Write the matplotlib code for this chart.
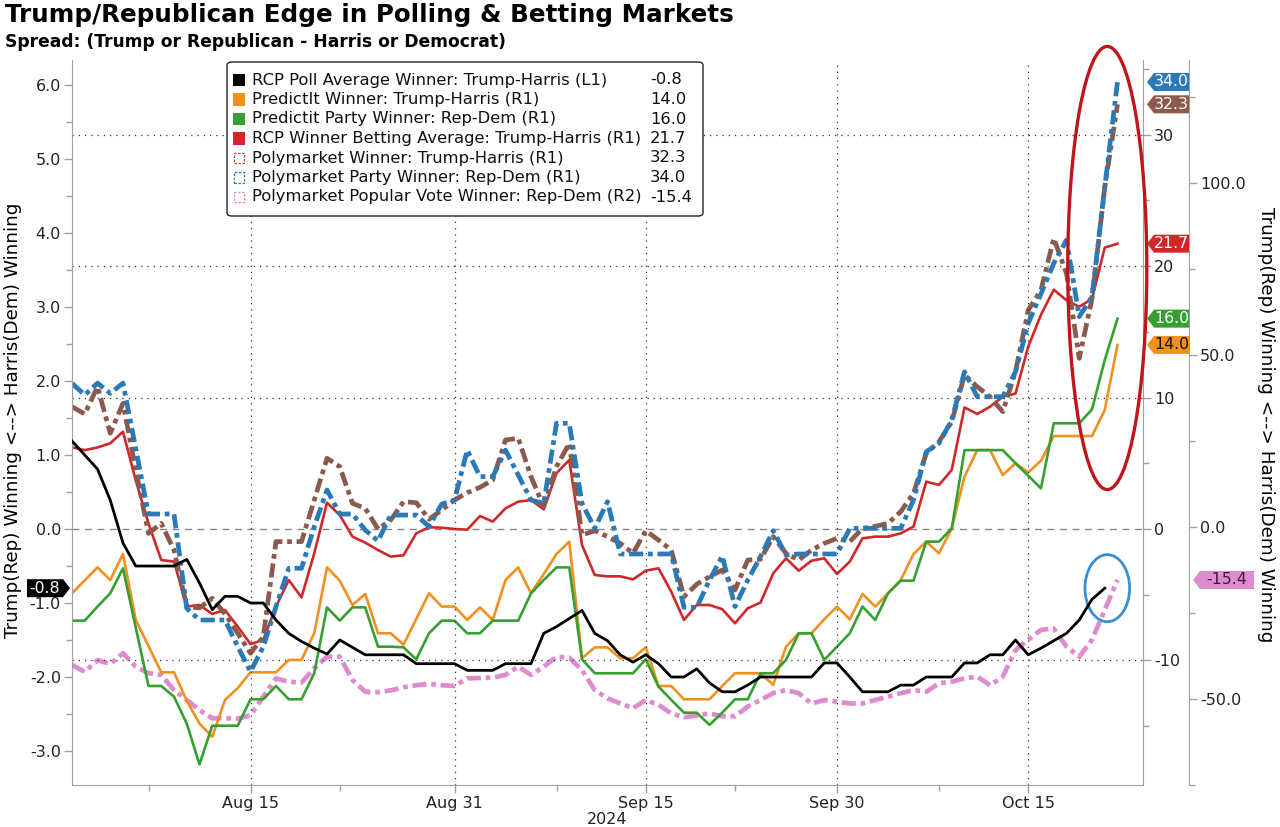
import numpy as np
import pandas as pd
import matplotlib
matplotlib.use('Agg')
import matplotlib.pyplot as plt
import matplotlib.dates as mdates
from matplotlib.patches import Ellipse, Rectangle, FancyBboxPatch, Polygon
from matplotlib.ticker import MultipleLocator, FormatStrFormatter

# ---------------- data ----------------
dates = pd.date_range('2024-08-01', periods=83, freq='D')

rcp_poll = [1.19, 1.0, 0.81, 0.39, -0.19, -0.5, -0.5, -0.5, -0.5, -0.41,
            -0.73, -1.09, -0.91, -0.91, -1.0, -1.0, -1.23, -1.41, -1.52, -1.61,
            -1.69, -1.5, -1.6, -1.7, -1.7, -1.7, -1.7, -1.82, -1.82, -1.82,
            -1.82, -1.91, -1.91, -1.91, -1.82, -1.82, -1.82, -1.41, -1.32, -1.21,
            -1.10, -1.41, -1.51, -1.70, -1.80, -1.70, -1.82, -2.0, -2.0, -1.89,
            -2.08, -2.2, -2.2, -2.11, -2.0, -2.0, -2.0, -2.0, -2.0, -1.81,
            -1.81, -2.0, -2.2, -2.2, -2.2, -2.11, -2.11, -2.0, -2.0, -2.0,
            -1.81, -1.81, -1.70, -1.70, -1.5, -1.70, -1.61, -1.51, -1.41, -1.23,
            -0.95, -0.8]

predictit = [-4.89, -3.9, -2.92, -3.88, -1.9, -6.92, -8.9, -10.9, -10.9, -13.06,
             -14.8, -15.8, -13.0, -12.1, -10.9, -10.9, -10.9, -9.96, -9.96, -7.93,
             -2.92, -3.93, -5.78, -4.94, -7.93, -7.93, -8.8, -6.85, -4.89, -5.9,
             -5.9, -6.92, -5.96, -6.92, -3.88, -2.92, -4.89, -3.42, -1.9, -0.96,
             -9.83, -9.0, -9.0, -9.83, -9.83, -9.0, -11.94, -11.94, -12.95, -12.95,
             -12.95, -11.94, -10.97, -10.97, -10.97, -11.86, -8.95, -7.93, -7.93, -6.87,
             -5.9, -6.87, -4.94, -5.9, -4.89, -3.88, -1.9, -0.96, -1.85, 0.05,
             3.98, 6.0, 6.0, 4.1, 5.0, 4.3, 5.2, 7.07, 7.07, 7.07,
             7.07, 9.05, 14.0]

predictit_party = [-6.97, -6.97, -5.9, -4.89, -2.99, -7.5, -11.94, -11.94, -12.75, -14.8,
                   -17.9, -14.96, -14.96, -14.96, -12.95, -12.95, -11.94, -12.95, -12.95, -10.97,
                   -5.96, -6.97, -5.96, -5.96, -8.95, -8.95, -9.0, -9.91, -7.93, -6.97,
                   -6.97, -7.93, -7.93, -6.97, -6.97, -6.97, -4.89, -3.88, -2.92, -2.92,
                   -9.91, -10.97, -10.97, -10.97, -10.97, -9.91, -11.99, -13.0, -13.97, -13.97,
                   -14.9, -13.97, -12.95, -12.95, -10.97, -10.97, -9.96, -7.93, -7.93, -9.96,
                   -8.95, -7.93, -5.9, -6.92, -4.89, -3.93, -3.93, -0.96, -0.96, 0.05,
                   6.0, 6.0, 6.0, 6.0, 5.0, 4.05, 3.09, 8.04, 8.04, 8.04,
                   9.1, 12.85, 16.0]

rcp_betting = [6.21, 6.0, 6.2, 6.52, 7.4, 3.7, 0.43, -2.36, -2.48, -5.9,
               -5.78, -6.46, -6.16, -7.43, -8.75, -8.44, -5.9, -3.88, -5.2, -1.85,
               2.0, 1.06, -0.58, -1.04, -1.6, -2.1, -2.0, -0.33, 0.13, 0.1,
               0.0, -0.05, 0.99, 0.56, 1.57, 2.08, 2.2, 1.5, 4.24, 5.25,
               -1.22, -3.5, -3.6, -3.6, -3.83, -3.17, -2.99, -4.77, -6.92, -5.78,
               -5.78, -6.1, -7.17, -6.03, -5.6, -3.37, -2.23, -3.17, -2.41, -2.23,
               -3.42, -2.48, -0.71, -0.58, -0.58, -0.33, 0.18, 3.6, 3.35, 4.49,
               9.25, 8.75, 9.3, 10.06, 10.3, 13.87, 16.3, 18.2, 17.4, 16.9,
               17.5, 21.4, 21.7]

poly_winner = [9.3, 8.75, 10.82, 7.28, 9.56, 4.5, -0.33, 0.43, -1.6, -5.9,
               -6.0, -5.27, -6.46, -7.93, -9.45, -8.19, -0.96, -0.96, -0.96, 2.2,
               5.38, 4.74, 1.95, 1.57, 0.0, 0.68, 2.08, 2.0, 0.74, 1.44,
               2.2, 2.76, 3.17, 3.73, 6.77, 6.9, 3.98, 1.7, 4.74, 6.52,
               -0.46, -0.13, -0.58, -1.09, -1.85, -0.13, -0.84, -1.6, -5.15, -4.2,
               -3.63, -3.12, -4.64, -2.36, -2.3, -0.58, -1.85, -2.36, -1.6, -1.09,
               -0.71, -0.96, 0.05, 0.2, 0.43, 1.32, 2.71, 5.76, 6.64, 8.16,
               11.71, 10.82, 10.06, 8.92, 11.96, 16.65, 18.17, 22.1, 19.44, 12.98,
               17.5, 26.0, 32.3]

poly_party = [11.08, 10.19, 11.1, 10.32, 11.1, 6.1, 1.14, 1.14, 1.14, -6.03,
              -6.92, -6.92, -6.92, -8.95, -10.85, -8.95, -5.9, -2.99, -2.99, 0.18,
              2.97, 1.14, 1.14, -0.08, -0.9, 1.06, 1.06, 1.06, 0.18, 1.9,
              2.2, 6.0, 3.98, 3.98, 6.0, 4.1, 2.2, 1.95, 8.04, 8.04,
              1.95, 0.05, 2.08, -1.9, -1.9, -1.9, -1.9, -1.9, -5.96, -5.96,
              -3.88, -2.05, -5.9, -3.88, -2.1, -0.13, -1.98, -1.9, -1.9, -1.9,
              -1.9, 0.05, 0.05, 0.05, 0.05, 0.05, 2.2, 5.88, 6.52, 8.29,
              11.96, 10.06, 10.06, 10.06, 11.96, 15.64, 17.9, 20.2, 21.97, 16.15,
              17.67, 26.0, 34.0]

poly_popular = [-40.1, -42.1, -38.7, -39.8, -36.7, -40.6, -42.5, -43.0, -47.4, -50.3,
                -53.2, -55.6, -55.6, -55.7, -54.7, -49.3, -44.0, -45.0, -45.2, -41.1,
                -37.7, -37.7, -44.5, -47.9, -48.0, -47.5, -46.6, -46.0, -45.6, -46.0,
                -46.2, -44.0, -43.9, -43.8, -43.0, -40.6, -43.0, -40.6, -37.7, -38.0,
                -41.6, -47.4, -49.8, -51.3, -52.7, -50.3, -51.7, -54.2, -55.3, -54.8,
                -54.2, -55.0, -55.0, -52.2, -50.3, -48.3, -47.4, -48.3, -51.3, -50.3,
                -50.8, -51.3, -51.3, -50.3, -49.3, -48.3, -47.4, -47.9, -45.4, -45.0,
                -44.0, -43.5, -46.0, -43.5, -35.8, -32.8, -29.9, -29.5, -34.8, -37.7,
                -32.8, -24.1, -15.4]

legend_labels = ["RCP Poll Average Winner: Trump-Harris (L1)",
                 "PredictIt Winner: Trump-Harris (R1)",
                 "Predictit Party Winner: Rep-Dem (R1)",
                 "RCP Winner Betting Average: Trump-Harris (R1)",
                 "Polymarket Winner: Trump-Harris (R1)",
                 "Polymarket Party Winner: Rep-Dem (R1)",
                 "Polymarket Popular Vote Winner: Rep-Dem (R2)"]
legend_values = ["-0.8", "14.0", "16.0", "21.7", "32.3", "34.0", "-15.4"]

major_ticks = pd.to_datetime(['2024-08-15', '2024-08-31', '2024-09-15', '2024-09-30', '2024-10-15'])
minor_ticks = pd.to_datetime(['2024-08-07', '2024-08-22', '2024-09-08', '2024-09-22', '2024-10-08'])

# ---------------- styling ----------------
C_BLACK = '#000000'
C_ORANGE = '#f0901e'
C_GREEN = '#35a02f'
C_RED = '#d0282a'
C_BROWN = '#8c5a4c'
C_BLUE = '#2a7ab8'
C_PINK = '#df8bcf'
SPINE = '#a0a0a0'

plt.rcParams['font.family'] = ['DejaVu Sans']
plt.rcParams['axes.unicode_minus'] = False

W, H = 1280, 827
fig = plt.figure(figsize=(W / 100, H / 100), dpi=100)

L, R, T, B = 72, 1143, 60, 785
ax = fig.add_axes([L / W, 1 - B / H, (R - L) / W, (B - T) / H])
ax1 = ax.twinx()
ax2 = ax.twinx()
ax2.spines['right'].set_position(('outward', 46 * 72 / 100))

ax.set_xlim(dates[0], dates[0] + pd.Timedelta(days=84))
ax.set_ylim(-3.46, 6.34)
ax1.set_ylim(-19.47, 35.67)
ax2.set_ylim(-75.0, 135.76)

for a in (ax, ax1, ax2):
    for s in a.spines.values():
        s.set_color(SPINE)
    a.spines['top'].set_visible(False)
    a.set_facecolor('none')
ax.spines['right'].set_visible(False)
ax1.spines['left'].set_visible(False)
ax2.spines['left'].set_visible(False)
ax1.spines['bottom'].set_visible(False)
ax2.spines['bottom'].set_visible(False)

# ticks
ax.yaxis.set_major_locator(MultipleLocator(1.0))
ax.yaxis.set_minor_locator(MultipleLocator(0.5))
ax.yaxis.set_major_formatter(FormatStrFormatter('%.1f'))
ax1.set_yticks([-10, 0, 10, 20, 30])
ax1.yaxis.set_minor_locator(MultipleLocator(5))
ax2.set_yticks([-50, 0, 50, 100])
ax2.yaxis.set_minor_locator(MultipleLocator(25))
ax2.yaxis.set_major_formatter(FormatStrFormatter('%.1f'))

ax.set_xticks(major_ticks)
ax.set_xticks(minor_ticks, minor=True)
ax.xaxis.set_major_formatter(mdates.DateFormatter('%b %d'))
ax.set_xlabel('2024', fontsize=11.5, labelpad=1, color='#222222')

for a in (ax, ax1, ax2):
    a.tick_params(axis='both', which='major', length=6, width=1, color=SPINE,
                  labelsize=11.5, labelcolor='#222222', pad=2)
    a.tick_params(axis='both', which='minor', length=4, width=1, color=SPINE)

# grid
for v in [-10, 10, 20, 30]:
    ax1.axhline(v, color='#333333', lw=0.9, ls=(0, (1, 4)), zorder=0)
ax1.axhline(0, color='#888888', lw=1.0, ls=(0, (5, 4)), zorder=0)
for d in major_ticks:
    ax.axvline(d, color='#333333', lw=0.9, ls=(0, (1, 4)), zorder=0)

# series
dash = (0, (3, 1, 1, 1))
ax2.plot(dates, poly_popular, color=C_PINK, lw=3.4, ls=dash, zorder=2)
ax1.plot(dates, predictit, color=C_ORANGE, lw=1.9, zorder=3)
ax1.plot(dates, predictit_party, color=C_GREEN, lw=1.9, zorder=3)
ax1.plot(dates, rcp_betting, color=C_RED, lw=1.9, zorder=3)
ax1.plot(dates, poly_winner, color=C_BROWN, lw=3.4, ls=dash, zorder=4)
ax1.plot(dates, poly_party, color=C_BLUE, lw=3.4, ls=dash, zorder=5)
ax.plot(dates[:len(rcp_poll)], rcp_poll, color=C_BLACK, lw=2.0, zorder=6)
ax.set_zorder(ax2.get_zorder() + 2)
ax1.set_zorder(ax2.get_zorder() + 1)

# ellipses (annotations)
cx = mdates.date2num(dates[0]) + 81.2
ax1.add_patch(Ellipse((cx, 19.85), 6.2, 33.7, fill=False, edgecolor='#c0161b',
                      lw=2.4, clip_on=False, zorder=10))
ax1.add_patch(Ellipse((cx, -4.5), 3.5, 5.1, fill=False, edgecolor='#3a8fd0',
                      lw=2.0, clip_on=False, zorder=10))

# labels
fig.text(5 / W, 1 - 3 / H, 'Trump/Republican Edge in Polling & Betting Markets',
         fontsize=17.7, fontweight='bold', ha='left', va='top')
fig.text(5 / W, 1 - 33 / H, 'Spread: (Trump or Republican - Harris or Democrat)',
         fontsize=12.3, fontweight='bold', ha='left', va='top')
ylab = 'Trump(Rep) Winning <--> Harris(Dem) Winning'
fig.text(13 / W, 1 - 420 / H, ylab, rotation=90, ha='center', va='center', fontsize=13.2)
fig.text(1266 / W, 1 - 425 / H, ylab, rotation=270, ha='center', va='center', fontsize=13.2)

# legend (manual)
lx0, lx1, ly0, ly1 = 227, 703, 62, 216
fig.patches.append(FancyBboxPatch((lx0 / W, 1 - ly1 / H), (lx1 - lx0) / W, (ly1 - ly0) / H,
                                  boxstyle='round,pad=0,rounding_size=0.004',
                                  transform=fig.transFigure, facecolor='white',
                                  edgecolor='#222222', lw=1.0, zorder=20))
leg_colors = [C_BLACK, C_ORANGE, C_GREEN, C_RED, C_BROWN, C_BLUE, C_PINK]
leg_dashed = [False, False, False, False, True, True, True]
for i, (lab, val, c, dsh) in enumerate(zip(legend_labels, legend_values, leg_colors, leg_dashed)):
    yc = 80 + i * 19.5
    if dsh:
        p = Rectangle((234 / W, 1 - (yc + 5) / H), 10 / W, 10 / H, transform=fig.transFigure,
                      facecolor='white', edgecolor=c, lw=0.9, ls=(0, (2, 1.2)), zorder=21)
    else:
        p = Rectangle((233 / W, 1 - (yc + 6) / H), 12 / W, 12 / H, transform=fig.transFigure,
                      facecolor=c, edgecolor='none', zorder=21)
    fig.patches.append(p)
    fig.text(252 / W, 1 - yc / H, lab, fontsize=11.8, ha='left', va='center',
             color='#111111', zorder=22)
    fig.text(650 / W, 1 - yc / H, val, fontsize=11.8, ha='left', va='center',
             color='#111111', zorder=22)

# value tags
fig.canvas.draw()


def tag_right(axis, val, text, fc, tc, x0, x1):
    yd = axis.transData.transform((0, val))[1]
    h = 9
    verts = [(x0, yd), (x0 + 7, yd + h), (x1, yd + h), (x1, yd - h), (x0 + 7, yd - h)]
    fig.patches.append(Polygon([(x / W, y / H) for x, y in verts], closed=True,
                               transform=fig.transFigure, facecolor=fc, edgecolor='none', zorder=15))
    fig.text((x0 + 7 + x1) / 2 / W, yd / H, text, color=tc, fontsize=11.3,
             ha='center', va='center', zorder=16)


def tag_left(axis, val, text, fc, tc, x0, x1):
    yd = axis.transData.transform((0, val))[1]
    h = 9
    verts = [(x1, yd), (x1 - 7, yd + h), (x0, yd + h), (x0, yd - h), (x1 - 7, yd - h)]
    fig.patches.append(Polygon([(x / W, y / H) for x, y in verts], closed=True,
                               transform=fig.transFigure, facecolor=fc, edgecolor='none', zorder=15))
    fig.text((x0 + x1 - 7) / 2 / W, yd / H, text, color=tc, fontsize=11.3,
             ha='center', va='center', zorder=16)


tag_right(ax1, poly_party[-1], '34.0', C_BLUE, 'white', 1147, 1189)
tag_right(ax1, poly_winner[-1], '32.3', C_BROWN, 'white', 1147, 1189)
tag_right(ax1, rcp_betting[-1], '21.7', C_RED, 'white', 1147, 1189)
tag_right(ax1, predictit_party[-1], '16.0', C_GREEN, 'white', 1147, 1189)
tag_right(ax1, predictit[-1], '14.0', C_ORANGE, '#111111', 1147, 1189)
tag_right(ax2, poly_popular[-1], '-15.4', C_PINK, '#3a1740', 1193, 1254)
tag_left(ax, rcp_poll[-1], '-0.8', C_BLACK, 'white', 27, 70)

fig.savefig('out.png', dpi=100)
